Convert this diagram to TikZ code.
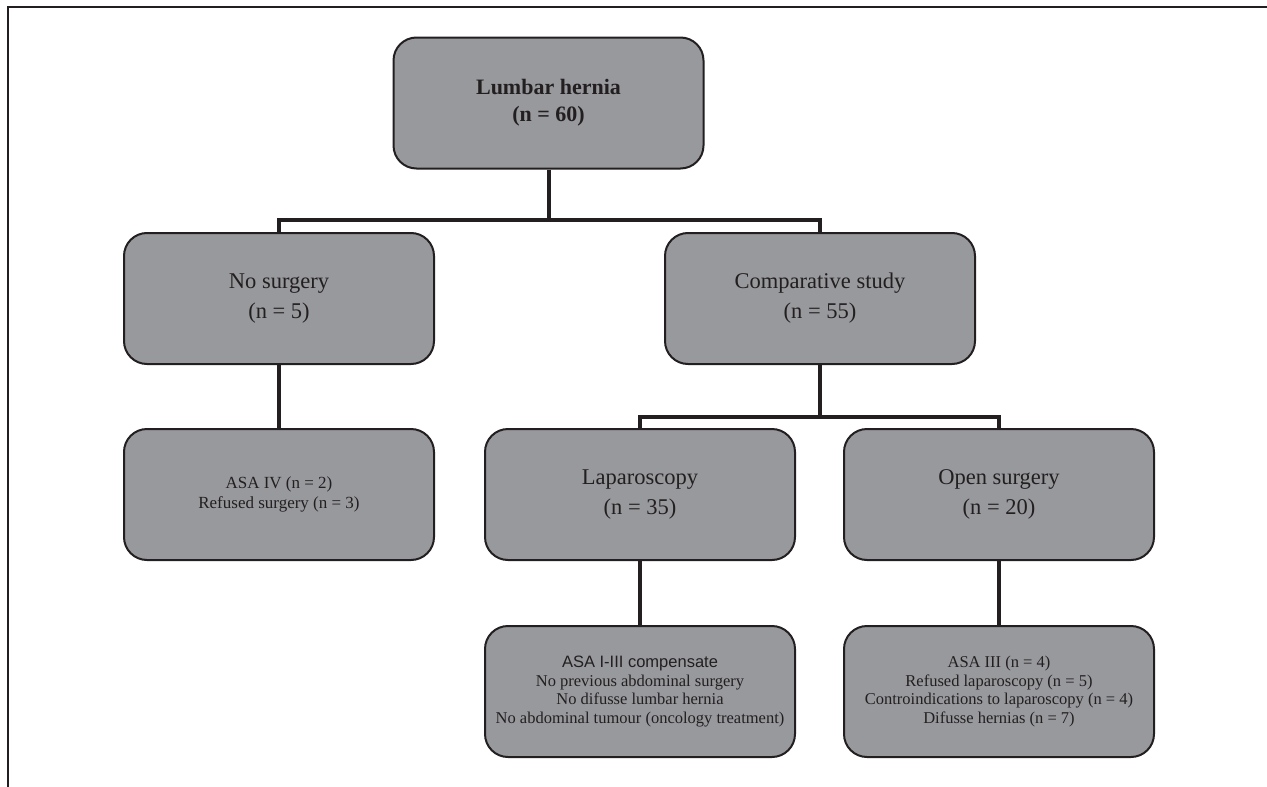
\documentclass[tikz,border=0pt]{standalone}
\usepackage{fontspec}
\setmainfont{Liberation Serif}
\newfontfamily\arialfont{Liberation Sans}
\definecolor{boxgray}{RGB}{152,153,157}
\definecolor{ink}{RGB}{35,31,32}
\begin{document}
\begin{tikzpicture}[x=1pt,y=-1pt,
  box/.style={draw=ink, line width=2pt, fill=boxgray, rounded corners=23pt,
    minimum width=310pt, minimum height=131pt, align=center, text=ink, inner sep=0pt},
  toptext/.style={font=\fontsize{22}{27}\selectfont},
  bigtext/.style={font=\fontsize{22.5}{30}\selectfont},
  smalltext/.style={font=\fontsize{17}{20}\selectfont},
  tinytext/.style={font=\fontsize{16.5}{18.5}\selectfont},
  conn/.style={draw=ink, line width=4pt},
  frameline/.style={draw=ink, line width=2pt}]
\useasboundingbox (0,0) rectangle (1267,787);
\coordinate (f1) at (1267,7);
\coordinate (f2) at (7.5,7);
\coordinate (f3) at (7.5,787);
\draw[frameline] (f1) -- (f2) -- (f3);

\node[box, toptext] (top) at (548.5,103) {\textbf{Lumbar hernia}\\\textbf{(n = 60)}};
\node[box, bigtext] (nos) at (279,298.5) {No surgery\\(n = 5)};
\node[box, bigtext] (comp) at (820,298.5) {Comparative study\\(n = 55)};
\node[box, smalltext] (asa4) at (279,494.5) {ASA IV (n = 2)\\Refused surgery (n = 3)};
\node[box, bigtext] (lap) at (640,494.5) {Laparoscopy\\(n = 35)};
\node[box, bigtext] (open) at (999,494.5) {Open surgery\\(n = 20)};
\node[box, tinytext] (asa13) at (640,691.5) {{\arialfont ASA I-III compensate}\\No previous abdominal surgery\\No difusse lumbar hernia\\No abdominal tumour (oncology treatment)};
\node[box, tinytext] (asa3) at (999,691.5) {ASA III (n = 4)\\Refused laparoscopy (n = 5)\\Controindications to laparoscopy (n = 4)\\Difusse hernias (n = 7)};

\draw[conn] (top.south) -- (548.5,220) coordinate (j1);
\draw[conn] (nos.north) |- (j1) -| (comp.north);
\draw[conn] (comp.south) -- (820,417) coordinate (j2);
\draw[conn] (lap.north) |- (j2) -| (open.north);
\draw[conn] (nos.south) -- (asa4.north);
\draw[conn] (lap.south) -- (asa13.north);
\draw[conn] (open.south) -- (asa3.north);
\end{tikzpicture}
\end{document}
